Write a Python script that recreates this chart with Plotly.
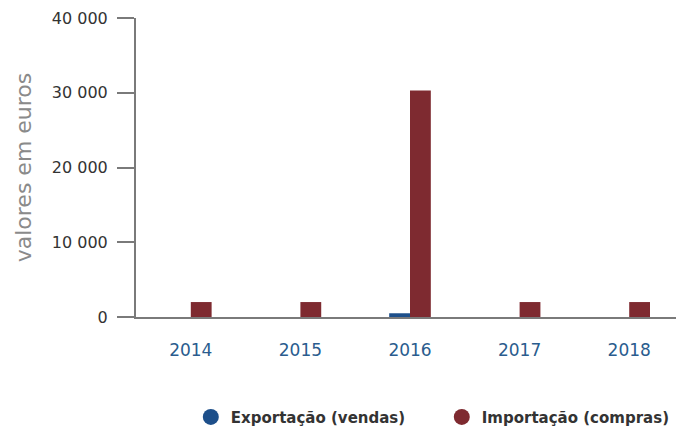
import plotly.graph_objects as go

years = ["2014", "2015", "2016", "2017", "2018"]
exportacao = [0, 0, 500, 0, 0]
importacao = [2000, 2000, 30300, 2000, 2000]
y_ticks = [0, 10000, 20000, 30000, 40000]
y_ticktext = ["0", "10 000", "20 000", "30 000", "40 000"]

blue = "#1d4f8a"
red = "#7e2a30"
axis_col = "#7a7a7a"

fig = go.Figure()
fig.add_trace(go.Bar(x=years, y=exportacao, name="Exportação (vendas)",
                     marker=dict(color=blue, line=dict(width=0)), showlegend=False))
fig.add_trace(go.Bar(x=years, y=importacao, name="Importação (compras)",
                     marker=dict(color=red, line=dict(width=0)), showlegend=False))
# legend entries with circle markers
fig.add_trace(go.Scatter(x=[None], y=[None], mode="markers", name="Exportação (vendas)",
                         marker=dict(color=blue, size=20, symbol="circle"), legend="legend"))
fig.add_trace(go.Scatter(x=[None], y=[None], mode="markers", name="Importação (compras)",
                         marker=dict(color=red, size=20, symbol="circle"), legend="legend2"))

legend_font = dict(size=15, color="#333333", weight=600)

fig.update_layout(
    width=676, height=426,
    margin=dict(l=128, r=0, t=10, b=114),
    paper_bgcolor="white", plot_bgcolor="white",
    barmode="group", bargap=0.62, bargroupgap=0,
    font=dict(family="DejaVu Sans", color="#333333"),
    legend=dict(orientation="h", x=0.1, xanchor="left", y=-0.335, yanchor="middle",
                font=legend_font, itemsizing="trace"),
    legend2=dict(orientation="h", x=0.558, xanchor="left", y=-0.335, yanchor="middle",
                 font=legend_font, itemsizing="trace"),
    xaxis=dict(showline=True, linecolor=axis_col, linewidth=2, ticks="",
               tickfont=dict(size=17, color="#2a5c8e"),
               ticklabelstandoff=17, showgrid=False, zeroline=False,
               range=[-0.5, 4.5]),
    yaxis=dict(showline=True, linecolor=axis_col, linewidth=2, ticks="outside",
               ticklen=17, tickwidth=2, tickcolor=axis_col,
               tickvals=y_ticks, ticktext=y_ticktext, range=[0, 40000],
               tickfont=dict(size=16, color="#333333"),
               ticklabelstandoff=6, showgrid=False, zeroline=False,
               title=dict(text="valores em euros", font=dict(size=22, color="#8a8a8a"),
                          standoff=14)),
)

fig.write_html("out.html")
